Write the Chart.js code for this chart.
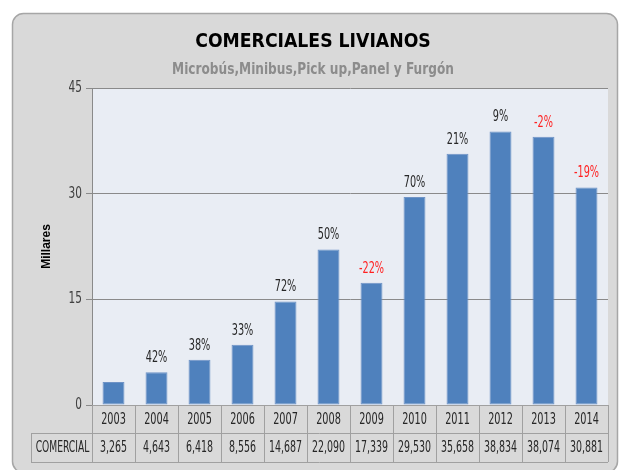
<!DOCTYPE html>
<html>
<head>
<meta charset="utf-8">
<script src="https://cdn.jsdelivr.net/npm/chart.js@4"></script>
<style>
  html, body { margin: 0; padding: 0; background: #ffffff; }
  #wrap { width: 625px; height: 470px; }
</style>
</head>
<body>
<div id="wrap"><canvas id="chart" width="625" height="470"></canvas></div>
<script>
const years = ['2003', '2004', '2005', '2006', '2007', '2008', '2009', '2010', '2011', '2012', '2013', '2014'];
const comercial = [3265, 4643, 6418, 8556, 14687, 22090, 17339, 29530, 35658, 38834, 38074, 30881];
const growth = [null, 42, 38, 33, 72, 50, -22, 70, 21, 9, -2, -19];
const yTicks = [0, 15, 30, 45];

const FONT = "'DejaVu Sans Condensed', 'Liberation Sans', sans-serif";

// draws text squeezed horizontally, for a narrow typeface look
function narrowText(ctx, text, x, y, squeeze) {
  const w = ctx.measureText(text).width;
  ctx.fillText(text, x, y, w * (squeeze || 0.8));
}

// frame, plot background, titles, growth labels and the data table under the axis
const decorations = {
  id: 'decorations',
  beforeDraw(chart) {
    const { ctx, chartArea: a } = chart;
    ctx.save();
    ctx.fillStyle = '#ffffff';
    ctx.fillRect(0, 0, chart.width, chart.height);
    ctx.beginPath();
    ctx.roundRect(12.5, 13.5, 605, 459, 11);
    ctx.fillStyle = '#d9d9d9';
    ctx.fill();
    ctx.strokeStyle = '#a6a6a6';
    ctx.lineWidth = 1.5;
    ctx.stroke();
    ctx.fillStyle = '#e9edf4';
    ctx.fillRect(a.left, a.top, a.right - a.left, a.bottom - a.top);

    ctx.textAlign = 'center';
    ctx.textBaseline = 'middle';
    ctx.fillStyle = '#000000';
    ctx.font = 'bold 20px ' + FONT;
    narrowText(ctx, 'COMERCIALES LIVIANOS', 313, 42, 0.96);
    ctx.fillStyle = '#8c8c8c';
    ctx.font = 'bold 15px ' + FONT;
    narrowText(ctx, 'Microbús,Minibus,Pick up,Panel y Furgón', 313, 70, 0.9);

    ctx.save();
    ctx.translate(47, (a.top + a.bottom) / 2);
    ctx.rotate(-Math.PI / 2);
    ctx.fillStyle = '#000000';
    ctx.font = 'bold 12px Arial, "Liberation Sans", sans-serif';
    ctx.fillText('Millares', 0, 0);
    ctx.restore();
    ctx.restore();
  },
  afterDraw(chart) {
    const { ctx, chartArea: a, scales: { x, y } } = chart;
    const meta = chart.getDatasetMeta(0);
    ctx.save();
    ctx.textBaseline = 'middle';

    // value axis labels
    ctx.textAlign = 'right';
    ctx.fillStyle = '#404040';
    ctx.font = '15px ' + FONT;
    yTicks.forEach(v => narrowText(ctx, String(v), 82, y.getPixelForValue(v), 0.78));

    ctx.textAlign = 'center';
    ctx.font = '15px ' + FONT;
    meta.data.forEach((bar, i) => {
      if (growth[i] === null) return;
      ctx.fillStyle = growth[i] < 0 ? '#ff2020' : '#262626';
      narrowText(ctx, growth[i] + '%', bar.x, bar.y - 14, 0.72);
    });

    // data table
    const step = x.getPixelForValue(1) - x.getPixelForValue(0);
    const r0 = a.bottom, r1 = a.bottom + 28, r2 = a.bottom + 57;
    const left = 31;
    ctx.strokeStyle = '#a0a0a0';
    ctx.lineWidth = 1;
    ctx.beginPath();
    ctx.moveTo(a.left, r0 + 0.5); ctx.lineTo(a.right, r0 + 0.5);
    ctx.moveTo(left, r1 + 0.5); ctx.lineTo(a.right, r1 + 0.5);
    ctx.moveTo(left, r2 + 0.5); ctx.lineTo(a.right, r2 + 0.5);
    ctx.moveTo(left + 0.5, r1); ctx.lineTo(left + 0.5, r2);
    for (let i = 0; i <= years.length; i++) {
      const px = Math.round(x.getPixelForValue(i) - step / 2) + 0.5;
      ctx.moveTo(px, r0); ctx.lineTo(px, r2);
    }
    ctx.stroke();

    ctx.fillStyle = '#262626';
    ctx.font = '15px ' + FONT;
    years.forEach((yr, i) => {
      const px = x.getPixelForValue(i);
      narrowText(ctx, yr, px, (r0 + r1) / 2 + 1, 0.72);
      narrowText(ctx, comercial[i].toLocaleString('en-US'), px, (r1 + r2) / 2 + 1, 0.7);
    });
    narrowText(ctx, 'COMERCIAL', (left + a.left) / 2 + 1, (r1 + r2) / 2 + 1, 0.68);
    ctx.restore();
  }
};

new Chart(document.getElementById('chart'), {
  type: 'bar',
  data: {
    labels: years,
    datasets: [{
      label: 'COMERCIAL',
      data: comercial.map(v => v / 1000),
      backgroundColor: '#4f81bd',
      borderColor: '#6f93c6',
      borderWidth: 1,
      borderSkipped: false,
      barPercentage: 0.51,
      categoryPercentage: 1
    }]
  },
  options: {
    responsive: false,
    animation: false,
    layout: { padding: { left: 12, right: 17, top: 88, bottom: 65 } },
    plugins: {
      legend: { display: false },
      tooltip: { enabled: false }
    },
    scales: {
      x: { display: false },
      y: {
        min: 0,
        max: 45,
        afterFit(scale) { scale.width = 80; },
        afterBuildTicks(scale) { scale.ticks = yTicks.map(v => ({ value: v })); },
        ticks: { display: false },
        grid: {
          color: '#8a8a8a',
          tickLength: 6,
          drawOnChartArea: true
        },
        border: { display: true, color: '#8a8a8a' }
      }
    }
  },
  plugins: [decorations]
});
</script>
</body>
</html>
